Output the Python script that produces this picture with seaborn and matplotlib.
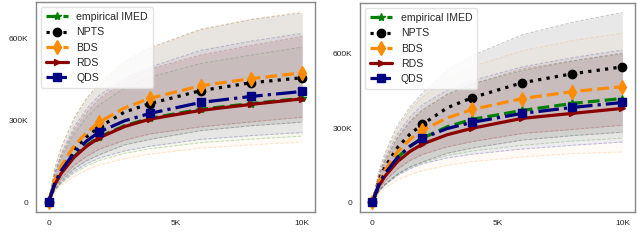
"""Regret curves for two settings, mean with shaded spread bands."""

import matplotlib
matplotlib.use("Agg")
import matplotlib.pyplot as plt
import seaborn as sns

# rounds (x) and cumulative regret in thousands (y)
ROUNDS = [0, 250, 500, 1000, 1500, 2000, 3000, 4000, 6000, 8000, 10000]
MARK_IDX = [0, 5, 7, 8, 9, 10]

LABELS = ["empirical IMED", "NPTS", "BDS", "RDS", "QDS"]

# left panel
L_IMED = [0, 67, 108, 167, 208, 239, 280, 307, 340, 361, 380]
L_IMED_HI = [0, 100, 161, 249, 310, 356, 417, 457, 507, 538, 567]
L_IMED_LO = [0, 43, 69, 107, 133, 153, 179, 196, 218, 231, 242]
L_NPTS = [0, 77, 124, 193, 240, 275, 330, 361, 408, 437, 455]
L_NPTS_HI = [0, 125, 200, 305, 380, 435, 515, 565, 632, 668, 692]
L_NPTS_LO = [0, 48, 78, 122, 152, 174, 210, 230, 262, 280, 293]
L_BDS = [0, 82, 132, 205, 255, 293, 345, 380, 426, 452, 473]
L_BDS_HI = [0, 125, 200, 305, 378, 432, 510, 562, 630, 668, 697]
L_BDS_LO = [0, 38, 61, 95, 118, 136, 160, 176, 198, 210, 220]
L_RDS = [0, 66, 106, 164, 205, 236, 277, 304, 336, 358, 378]
L_RDS_HI = [0, 106, 170, 263, 328, 378, 443, 487, 538, 573, 606]
L_RDS_LO = [0, 54, 87, 135, 168, 194, 227, 250, 276, 294, 311]
L_QDS = [0, 72, 116, 180, 224, 257, 298, 325, 365, 387, 405]
L_QDS_HI = [0, 110, 176, 274, 341, 391, 453, 494, 555, 589, 617]
L_QDS_LO = [0, 45, 73, 113, 141, 162, 188, 205, 230, 244, 255]

# right panel
R_IMED = [0, 73, 117, 182, 227, 260, 306, 336, 372, 400, 420]
R_IMED_HI = [0, 104, 167, 260, 325, 372, 438, 480, 532, 572, 600]
R_IMED_LO = [0, 45, 72, 113, 141, 161, 190, 208, 231, 248, 260]
R_NPTS = [0, 88, 143, 222, 276, 316, 383, 424, 484, 520, 548]
R_NPTS_HI = [0, 123, 200, 311, 386, 442, 536, 594, 678, 728, 768]
R_NPTS_LO = [0, 46, 74, 115, 144, 164, 199, 220, 252, 270, 284]
R_BDS = [0, 82, 131, 204, 255, 292, 342, 376, 420, 448, 468]
R_BDS_HI = [0, 120, 191, 298, 372, 426, 499, 549, 613, 654, 684]
R_BDS_LO = [0, 36, 58, 90, 112, 128, 150, 165, 184, 197, 204]
R_RDS = [0, 66, 106, 165, 206, 236, 274, 300, 340, 360, 380]
R_RDS_HI = [0, 105, 169, 262, 328, 375, 436, 477, 540, 572, 604]
R_RDS_LO = [0, 54, 87, 135, 169, 194, 225, 246, 279, 295, 312]
R_QDS = [0, 73, 117, 182, 227, 260, 299, 324, 360, 384, 404]
R_QDS_HI = [0, 111, 178, 277, 345, 395, 454, 493, 548, 585, 616]
R_QDS_LO = [0, 44, 70, 109, 136, 156, 180, 195, 216, 231, 244]

STYLES = {
    "empirical IMED": dict(color="green", ls="--", marker="*", ms=6),
    "NPTS": dict(color="black", ls=":", marker="o", ms=6),
    "BDS": dict(color="darkorange", ls="--", marker="d", ms=7),
    "RDS": dict(color="darkred", ls="-", marker=">", ms=5),
    "QDS": dict(color="navy", ls="-.", marker="s", ms=5.5),
}
BAND_ALPHA = {"empirical IMED": 0.04, "NPTS": 0.09, "BDS": 0.035,
              "RDS": 0.1, "QDS": 0.06}

PANELS = [
    [(L_IMED, L_IMED_LO, L_IMED_HI), (L_NPTS, L_NPTS_LO, L_NPTS_HI),
     (L_BDS, L_BDS_LO, L_BDS_HI), (L_RDS, L_RDS_LO, L_RDS_HI),
     (L_QDS, L_QDS_LO, L_QDS_HI)],
    [(R_IMED, R_IMED_LO, R_IMED_HI), (R_NPTS, R_NPTS_LO, R_NPTS_HI),
     (R_BDS, R_BDS_LO, R_BDS_HI), (R_RDS, R_RDS_LO, R_RDS_HI),
     (R_QDS, R_QDS_LO, R_QDS_HI)],
]
AX_BOXES = [[0.056, 0.135, 0.436, 0.857], [0.5625, 0.135, 0.4295, 0.853]]

sns.set_style("white")
plt.rcParams["font.family"] = ["Liberation Sans", "DejaVu Sans"]

fig = plt.figure(figsize=(6.4, 2.45), dpi=100)
for box, series in zip(AX_BOXES, PANELS):
    ax = fig.add_axes(box)
    for label, (mean, lo, hi) in zip(LABELS, series):
        c = STYLES[label]["color"]
        ax.fill_between(ROUNDS, lo, hi, color=c, alpha=BAND_ALPHA[label], lw=0)
        ax.plot(ROUNDS, hi, ls="--", color=c, lw=0.7, alpha=0.22)
        ax.plot(ROUNDS, lo, ls="--", color=c, lw=0.7, alpha=0.22)
    for label, (mean, lo, hi) in zip(LABELS, series):
        st = STYLES[label]
        sns.lineplot(x=ROUNDS, y=mean, ax=ax, label=label, errorbar=None,
                     lw=2.3, markevery=MARK_IDX, mec=st["color"],
                     mfc=st["color"], mew=1, **st)
    ax.set_xticks([0, 5000, 10000])
    ax.set_xticklabels(["0", "5K", "10K"])
    ax.set_yticks([0, 300, 600])
    ax.set_yticklabels(["0", "300K", "600K"])
    ax.set_xlim(-500, 10500)
    ax.tick_params(labelsize=6, pad=2)
    for sp in ax.spines.values():
        sp.set_color("#888888")
        sp.set_linewidth(1.0)
    ax.legend(loc="upper left", fontsize=7.6, handlelength=2.1,
              handletextpad=0.8, borderpad=0.45, labelspacing=0.5,
              borderaxespad=0.5, frameon=True, framealpha=0.85,
              edgecolor="#dddddd")

fig.savefig("out.png", dpi=100)
